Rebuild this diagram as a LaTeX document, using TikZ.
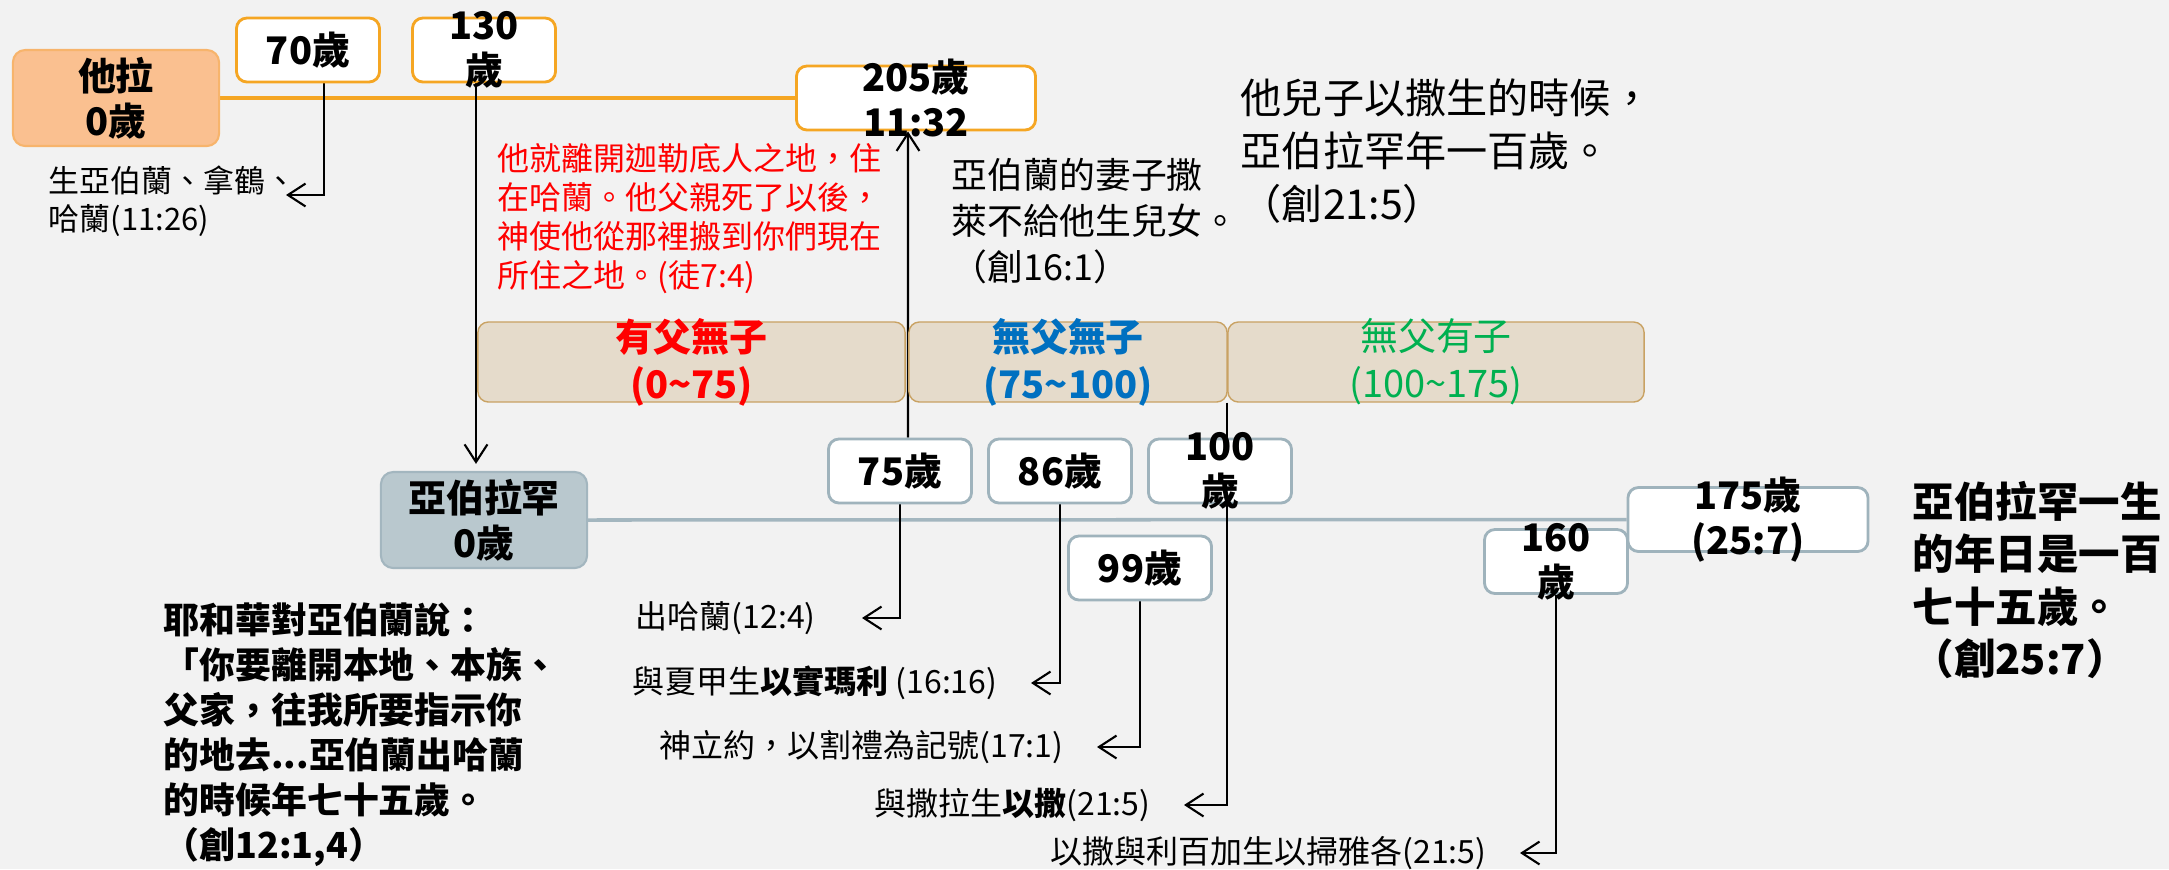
\documentclass[tikz,border=0pt]{standalone}
\usepackage{fontspec}
\setmainfont{Noto Sans CJK TC}
\usetikzlibrary{arrows.meta}

\definecolor{bgray}{HTML}{F2F2F2}
\definecolor{taraorange}{HTML}{FAC090}
\definecolor{taraedge}{HTML}{F7B46C}
\definecolor{ageorange}{HTML}{F5A623}
\definecolor{abramfill}{HTML}{B9C8CE}
\definecolor{abramedge}{HTML}{A3B6BF}
\definecolor{ageslate}{HTML}{9FB3BC}
\definecolor{bandfill}{HTML}{E5DBCB}
\definecolor{bandedge}{HTML}{C9A263}
\definecolor{redtext}{HTML}{FF0000}
\definecolor{bluetext}{HTML}{0070C0}
\definecolor{greentext}{HTML}{00B050}

\pgfdeclarelayer{back}
\pgfsetlayers{back,main}

\newcommand{\boxfont}{\bfseries\fontsize{10.8}{12.8}\selectfont}
\newcommand{\bandfont}{\fontsize{10.8}{13.4}\selectfont}

\begin{document}
\begin{tikzpicture}[x=0.01cm, y=-0.01cm,
    arr/.style={semithick, -{Straight Barb[length=5pt,width=6.5pt]}},
    namebox/.style={draw=taraedge, line width=0.6pt, fill=taraorange, rounded corners=3.5pt,
        minimum width=2.06cm, minimum height=0.96cm, inner sep=0pt, align=center, font=\boxfont},
    ageo/.style={draw=ageorange, line width=0.8pt, fill=white, rounded corners=3pt,
        minimum width=1.43cm, minimum height=0.64cm, inner sep=0pt},
    ages/.style={ageo, draw=ageslate},
    boxtxt/.style={align=center, font=\boxfont, inner sep=0pt},
    band/.style={draw=bandedge, fill=bandfill, rounded corners=3pt,
        minimum height=0.8cm, inner sep=0pt},
    note/.style={inner sep=0pt, align=left, anchor=west},
    lbl/.style={anchor=east, inner ysep=0pt, inner xsep=9.4pt, font=\fontsize{9.1}{11}\selectfont}]

    % Page and background
    \useasboundingbox (0,0) rectangle (2169,869);
    \begin{pgfonlayer}{back}
        \fill[bgray] (0,0) rectangle (2169,869);
    \end{pgfonlayer}

    % Terah's line
    \node[namebox] (tara) at (116,98) {他拉\\0歲};
    \node[ageo, label={[boxtxt]center:70歲}] (a70) at (308,50) {};
    \node[ageo, label={[boxtxt]center:{130\\歲}}] (a130) at (484,50) {};
    \node[ageo, minimum width=2.39cm, label={[boxtxt]center:{205歲\\11:32}}] (k205) at (916,98) {};
    \coordinate (t70) at (286,195);

    % Texts above the bands
    \node[note, font=\fontsize{8.8}{10.8}\selectfont] (birth) at (48,201) {生亞伯蘭、拿鶴、\\哈蘭(11:26)};
    \node[note, text=redtext, font=\fontsize{9.1}{11.1}\selectfont] (haran) at (497,218.5)
        {他就離開迦勒底人之地，住\\在哈蘭。他父親死了以後，\\神使他從那裡搬到你們現在\\所住之地。(徒7:4)};
    \node[note, font=\fontsize{10.2}{13.1}\selectfont] (sarai) at (951,221)
        {亞伯蘭的妻子撒\\萊不給他生兒女。\\（創16:1）};
    \node[note, font=\fontsize{11.7}{15.1}\selectfont] (isaac) at (1240,151)
        {他兒子以撒生的時候，\\亞伯拉罕年一百歲。\\（創21:5）};

    % The three periods
    \node[band, minimum width=4.27cm, label={[boxtxt, text=redtext, font=\bfseries\bandfont]center:{有父無子\\(0\textasciitilde75)}}] (b1) at (691.5,362) {};
    \node[band, minimum width=3.18cm, label={[boxtxt, text=bluetext, font=\bfseries\bandfont]center:{無父無子\\(75\textasciitilde100)}}] (b2) at (1068,362) {};
    \node[band, minimum width=4.16cm, label={[boxtxt, text=greentext, font=\bandfont]center:{無父有子\\(100\textasciitilde175)}}] (b3) at (1436,362) {};

    % Abram's line
    \node[namebox, draw=abramedge, fill=abramfill] (abram) at (484,520) {亞伯拉罕\\0歲};
    \node[ages, label={[boxtxt]center:75歲}] (a75) at (900,471) {};
    \node[ages, label={[boxtxt]center:86歲}] (a86) at (1060,471) {};
    \node[ages, label={[boxtxt]center:{100\\歲}}] (a100) at (1220,471) {};
    \node[ages, label={[boxtxt]center:99歲}] (a99) at (1140,568) {};
    \node[ages, label={[boxtxt]center:{160\\歲}}] (a160) at (1556,561.5) {};
    \node[ages, minimum width=2.40cm, label={[boxtxt]center:{175歲\\(25:7)}}] (a175) at (1748,519.5) {};

    % Events below the line
    \node[lbl, inner xsep=13pt] (l75) at (862,618) {出哈蘭(12:4)};
    \node[lbl] (l86) at (1031,683) {與夏甲生\textbf{以實瑪利} (16:16)};
    \node[lbl] (l99) at (1097,747) {神立約，以割禮為記號(17:1)};
    \node[lbl] (l100) at (1184,805) {與撒拉生\textbf{以撒}(21:5)};
    \node[lbl] (l160) at (1520,853) {以撒與利百加生以掃雅各(21:5)};

    % Quotes
    \node[note, font=\bfseries\fontsize{10.2}{12.8}\selectfont] (call) at (163,735)
        {耶和華對亞伯蘭說：\\「你要離開本地、本族、\\父家，往我所要指示你\\的地去...亞伯蘭出哈蘭\\的時候年七十五歲。\\（創12:1,4）};
    \node[note, font=\bfseries\fontsize{11.8}{14.8}\selectfont] (life) at (1912,580)
        {亞伯拉罕一生\\的年日是一百\\七十五歲。\\（創25:7）};

    % Connectors behind the boxes
    \begin{pgfonlayer}{back}
        \draw[ageorange, line width=1pt] (tara.east) -- (k205.west);
        \draw[abramedge, line width=1pt] (abram.east) -- (a175.west);
        \draw[arr] ([xshift=0.16cm]a70.south) |- (t70);
        \draw[arr, shorten >=2pt] ([xshift=-0.08cm]a130.south) -- ([xshift=-0.08cm]abram.north);
        \draw[arr] ([xshift=0.08cm]a75.north) -- ([xshift=-0.08cm]k205.south);
        \draw[arr] (a75.south) |- (l75.east);
        \draw[arr] (a86.south) |- (l86.east);
        \draw[arr] (a99.south) |- (l99.east);
        \draw[arr] (b3.south west) |- (l100.east);
        \draw[arr] (a160.south) |- (l160.east);
    \end{pgfonlayer}

\end{tikzpicture}
\end{document}
